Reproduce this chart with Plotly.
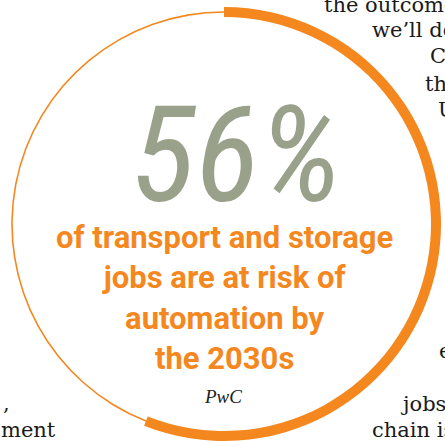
import plotly.graph_objects as go

# ---- data ----
slice_labels = ["At risk of automation", "Not at risk"]
slice_values = [56, 44]
headline = "56%"
caption_lines = ["of transport and storage", "jobs are at risk of", "automation by", "the 2030s"]
source = "PwC"
body_fragments = ["the outcome", "we\u2019ll do", "C", "th", "U", "e", "jobs", "chain is", ",", "ment"]

# ---- layout / style ----
W, H = 445, 441
ORANGE = "#F5871F"
SAGE = "#99A18B"
cx, cy = 224.0, 224.0          # ring centre in pixels (from top-left)
R_THICK_OUT, R_THICK_IN = 217.0, 207.0
R_THIN_OUT, R_THIN_IN = 212.8, 211.2


def dom(r):
    return dict(x=[(cx - r) / W, (cx + r) / W],
                y=[max(0.0, (H - cy - r) / H), min(1.0, (H - cy + r) / H)])


def px(x):
    return x / W


def py(y):
    return 1 - y / H


fig = go.Figure()

# thin full ring
fig.add_trace(go.Pie(
    labels=slice_labels, values=slice_values, sort=False, direction="clockwise", rotation=0,
    hole=R_THIN_IN / R_THIN_OUT, domain=dom(R_THIN_OUT),
    marker=dict(colors=[ORANGE, ORANGE], line=dict(width=0)),
    textinfo="none", hoverinfo="label+value", showlegend=False,
))
# thick arc for the share
fig.add_trace(go.Pie(
    labels=slice_labels, values=slice_values, sort=False, direction="clockwise", rotation=0,
    hole=R_THICK_IN / R_THICK_OUT, domain=dom(R_THICK_OUT),
    marker=dict(colors=[ORANGE, "rgba(0,0,0,0)"], line=dict(width=0)),
    textinfo="none", hoverinfo="label+value", showlegend=False,
))

ann = []
# big number
ann.append(dict(text=headline, x=px(236), y=py(155), xref="paper", yref="paper",
                xanchor="center", yanchor="middle", showarrow=False,
                font=dict(family="Roboto Condensed, Open Sans Condensed, sans-serif",
                          size=134, color=SAGE, style="italic")))
# caption
ann.append(dict(text="<br>".join(caption_lines), x=px(224), y=py(298), xref="paper", yref="paper",
                xanchor="center", yanchor="middle", showarrow=False, align="center",
                font=dict(family="Roboto, sans-serif", size=31, color=ORANGE, weight="bold")))
# source
ann.append(dict(text=source, x=px(223), y=py(396), xref="paper", yref="paper",
                xanchor="center", yanchor="middle", showarrow=False,
                font=dict(family="Liberation Serif, serif", size=19, color="#222", style="italic")))

# cropped body text around the circle (left x, baseline y)
body_pos = [(322, 12), (370, 37), (428, 63), (423, 91), (436, 117),
            (437, 358), (398, 411), (370, 437), (1, 410), (-1, 437)]
BODY_SIZE = 21
for t, (bx, by) in zip(body_fragments, body_pos):
    ann.append(dict(text=t, x=px(bx), y=py(by - 0.35 * BODY_SIZE), xref="paper", yref="paper",
                    xanchor="left", yanchor="middle", showarrow=False,
                    font=dict(family="DejaVu Serif, serif", size=BODY_SIZE, color="#1a1a1a")))

fig.update_layout(
    width=W, height=H, margin=dict(l=0, r=0, t=0, b=0),
    paper_bgcolor="white", plot_bgcolor="white",
    annotations=ann,
)

fig.write_html("out.html")
